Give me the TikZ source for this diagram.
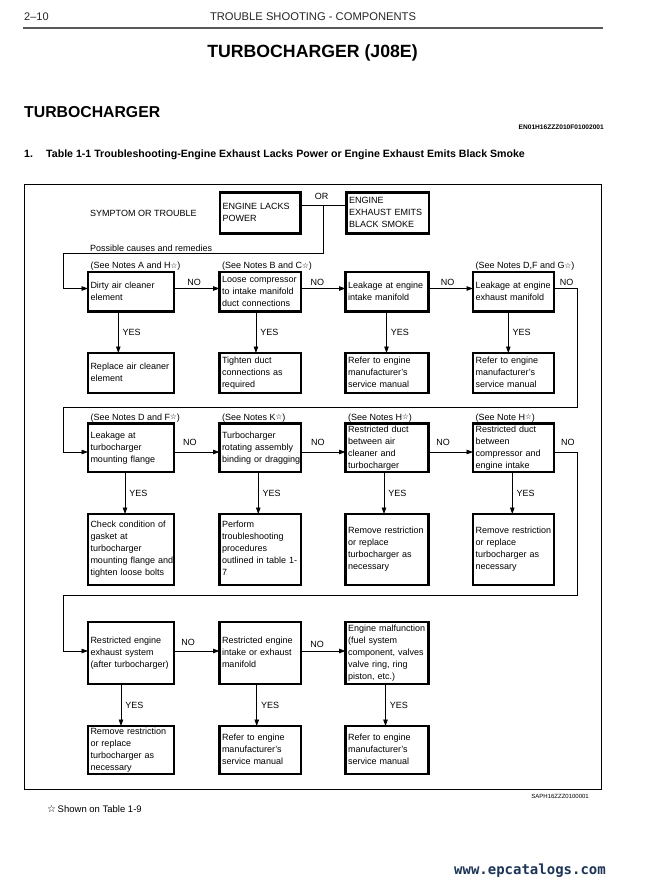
\documentclass[tikz,border=0pt]{standalone}
\usepackage{fontspec}
\setmainfont{Liberation Sans}
\newfontfamily\symf{DejaVu Sans}
\newfontfamily\wmf{DejaVu Sans Mono}
\usetikzlibrary{arrows.meta}
\newcommand\wst{{\symf\fontsize{7.5}{7.5}\selectfont\raisebox{0.3pt}{☆}}}
\newcommand\tl[1]{\noindent\begin{tabular}{@{}l@{}}#1\end{tabular}}
\definecolor{wmblue}{HTML}{1C3557}
\tikzset{
  bx/.style={draw, line width=2.6pt, outer sep=0pt, inner xsep=2.5pt, inner ysep=0pt,
    anchor=north west, align=left, font=\fontsize{9}{12}\selectfont},
  cA/.style={minimum width=86pt, text width=81pt},
  cB/.style={minimum width=81.5pt, text width=76.5pt},
  cC/.style={minimum width=83pt, text width=78pt},
  cD/.style={minimum width=81pt, text width=76pt},
  hda/.style={minimum height=39.5pt},
  hra/.style={minimum height=40pt},
  hdb/.style={minimum height=48.5pt},
  hrb/.style={minimum height=71pt},
  hdc/.style={minimum height=62pt},
  hrc/.style={minimum height=48pt},
  ln/.style={line width=0.8pt},
  arr/.style={line width=0.8pt, -{Triangle[length=6.5pt,width=4.5pt]}},
  lbl/.style={font=\fontsize{9}{11}\selectfont, inner sep=0pt},
  yes/.style={lbl, midway, right=4pt},
  note/.style={font=\fontsize{9}{11}\selectfont, inner sep=0pt, anchor=base west},
}
\begin{document}
\begin{tikzpicture}[x=1pt,y=-1pt]
\useasboundingbox (0,0) rectangle (667,889);
% header
\node[font=\fontsize{11}{13}\selectfont, inner sep=0pt, anchor=base west, text=black!85] (pg) at (24,20) {2–10};
\node[font=\fontsize{11.2}{13}\selectfont, inner sep=0pt, anchor=base, text=black!85] (hd) at (313,20) {TROUBLE SHOOTING - COMPONENTS};
\draw[line width=2pt, black!65] (23,27.5) -- (603,27.5);
\node[font=\bfseries\fontsize{17.7}{20}\selectfont, inner sep=0pt, anchor=base] (ttl) at (312.5,57.4) {TURBOCHARGER (J08E)};
\node[font=\bfseries\fontsize{15.8}{18}\selectfont, inner sep=0pt, anchor=base west] (sec) at (24,117.7) {TURBOCHARGER};
\node[font=\bfseries\fontsize{6.6}{7}\selectfont, inner sep=0pt, anchor=base east] (code1) at (604,129.4) {EN01H16ZZZ010F01002001};
\node[font=\bfseries\fontsize{10.6}{12}\selectfont, inner sep=0pt, anchor=base west] (num) at (24,157.8) {1.};
\node[font=\bfseries\fontsize{10.6}{12}\selectfont, inner sep=0pt, anchor=base west] (tbl) at (46,157.8) {Table 1-1 Troubleshooting-Engine Exhaust Lacks Power or Engine Exhaust Emits Black Smoke};
% frame
\draw[ln] (24,184) rectangle (601,789.5);
\node[lbl, anchor=base west] (sym) at (90,216.2) {SYMPTOM OR TROUBLE};
\node[lbl, anchor=base west] (pcr) at (90,251) {Possible causes and remedies};
% top boxes
\node[bx, minimum width=80.5pt, text width=75.5pt, minimum height=41pt] (elp) at (220,192.5) {\tl{ENGINE LACKS\\POWER}};
\node[bx, minimum width=82.5pt, text width=77.5pt, minimum height=41pt] (ebs) at (346.5,192.5) {\tl{ENGINE\\EXHAUST EMITS\\BLACK SMOKE}};
% row 1
\node[bx, cA, hda] (dac) at (88,272) {\tl{Dirty air cleaner\\element}};
\node[bx, cB, hda] (lcm) at (219.5,272) {\tl{Loose compressor\\to intake manifold\\duct connections}};
\node[bx, cC, hda] (lim) at (345.5,272) {\tl{Leakage at engine\\intake manifold}};
\node[bx, cD, hda] (lem) at (473,272) {\tl{Leakage at engine\\exhaust manifold}};
\node[bx, cA, hra] (rac) at (88,353) {\tl{Replace air cleaner\\element}};
\node[bx, cB, hra] (tdc) at (219.5,353) {\tl{Tighten duct\\connections as\\required}};
\node[bx, cC, hra] (rm1) at (345.5,353) {\tl{Refer to engine\\manufacturer's\\service manual}};
\node[bx, cD, hra] (rm2) at (473,353) {\tl{Refer to engine\\manufacturer's\\service manual}};
% row 2
\node[bx, cA, hdb] (ltf) at (88,423.5) {\tl{Leakage at\\turbocharger\\mounting flange}};
\node[bx, cB, hdb] (tra) at (219.5,423.5) {\tl{Turbocharger\\rotating assembly\\binding or dragging}};
\node[bx, cC, hdb] (rda) at (345.5,423.5) {\tl{Restricted duct\\between air\\cleaner and\\turbocharger}};
\node[bx, cD, hdb] (rdc) at (473,423.5) {\tl{Restricted duct\\between\\compressor and\\engine intake}};
\node[bx, cA, hrb] (ccg) at (88,514) {\tl{Check condition of\\gasket at\\turbocharger\\mounting flange and\\tighten loose bolts}};
\node[bx, cB, hrb] (ptp) at (219.5,514) {\tl{Perform\\troubleshooting\\procedures\\outlined in table 1-\\7}};
\node[bx, cC, hrb] (rr1) at (345.5,514) {\tl{Remove restriction\\or replace\\turbocharger as\\necessary}};
\node[bx, cD, hrb] (rr2) at (473,514) {\tl{Remove restriction\\or replace\\turbocharger as\\necessary}};
% row 3
\node[bx, cA, hdc] (rex) at (88,622) {\tl{Restricted engine\\exhaust system\\(after turbocharger)}};
\node[bx, cB, hdc] (rie) at (219.5,622) {\tl{Restricted engine\\intake or exhaust\\manifold}};
\node[bx, cC, hdc] (emf) at (345.5,622) {\tl{Engine malfunction\\(fuel system\\component, valves\\valve ring, ring\\piston, etc.)}};
\node[bx, cA, hrc] (rr3) at (88,726) {\tl{Remove restriction\\or replace\\turbocharger as\\necessary}};
\node[bx, cB, hrc] (rm3) at (219.5,726) {\tl{Refer to engine\\manufacturer's\\service manual}};
\node[bx, cC, hrc] (rm4) at (345.5,726) {\tl{Refer to engine\\manufacturer's\\service manual}};
% notes
\node[note] (na) at ([xshift=2.5pt,yshift=3.3pt]dac.north west) {(See Notes A and H\wst)};
\node[note] (nb) at ([xshift=2.5pt,yshift=3.3pt]lcm.north west) {(See Notes B and C\wst)};
\node[note] (nd) at ([xshift=2.5pt,yshift=3.3pt]lem.north west) {(See Notes D,F and G\wst)};
\node[note] (ne) at ([xshift=2.5pt,yshift=3.3pt]ltf.north west) {(See Notes D and F\wst)};
\node[note] (nf) at ([xshift=2.5pt,yshift=3.3pt]tra.north west) {(See Notes K\wst)};
\node[note] (ng) at ([xshift=2.5pt,yshift=3.3pt]rda.north west) {(See Notes H\wst)};
\node[note] (nh) at ([xshift=2.5pt,yshift=3.3pt]rdc.north west) {(See Note H\wst)};
% helper coordinates
\coordinate (orj) at (323,205);
\coordinate (oa) at (323,253);
\coordinate (ob) at (63,253);
\coordinate (ya) at (0,288.5);
\coordinate (yb) at (0,452);
\coordinate (yc) at (0,651);
\coordinate (ka) at (577,407);
\coordinate (kb) at (63,407);
\coordinate (kc) at (577,595);
\coordinate (kd) at (63,595);
% OR connection
\draw[ln] (elp.east |- orj) -- node[lbl, pos=0.46, above=5pt] (orl) {OR} (ebs.west |- orj);
\draw[arr] (orj) -- (oa) -- (ob) |- (dac.west |- ya);
% row 1 connectors
\draw[arr] (dac.east |- ya) -- node[lbl, pos=0.44, above=2.6pt] {NO} (lcm.west |- ya);
\draw[arr] (lcm.east |- ya) -- node[lbl, pos=0.37, above=2.6pt] {NO} (lim.west |- ya);
\draw[arr] (lim.east |- ya) -- node[lbl, pos=0.43, above=2.6pt] {NO} (lem.west |- ya);
\draw[arr] (lem.east |- ya) -- node[lbl, pos=0.55, above=2.6pt] {NO} (ka |- ya) -- (ka) -- (kb) |- (ltf.west |- yb);
\draw[arr] ([xshift=-12.7pt]dac.south) -- node[yes] {YES} ([xshift=-12.7pt]rac.north);
\draw[arr] ([xshift=-4.3pt]lcm.south) -- node[yes] {YES} ([xshift=-4.3pt]tdc.north);
\draw[arr] ([xshift=-0.5pt]lim.south) -- node[yes] {YES} ([xshift=-0.5pt]rm1.north);
\draw[arr] ([xshift=-5.2pt]lem.south) -- node[yes] {YES} ([xshift=-5.2pt]rm2.north);
% row 2 connectors
\draw[arr] (ltf.east |- yb) -- node[lbl, pos=0.35, above=5.8pt] {NO} (tra.west |- yb);
\draw[arr] (tra.east |- yb) -- node[lbl, pos=0.38, above=5.8pt] {NO} (rda.west |- yb);
\draw[arr] (rda.east |- yb) -- node[lbl, pos=0.33, above=5.8pt] {NO} (rdc.west |- yb);
\draw[arr] (rdc.east |- yb) -- node[lbl, pos=0.6, above=6pt] {NO} (kc |- yb) -- (kc) -- (kd) |- (rex.west |- yc);
\draw[arr] ([xshift=-6pt]ltf.south) -- node[yes] {YES} ([xshift=-6pt]ccg.north);
\draw[arr] ([xshift=-2pt]tra.south) -- node[yes] {YES} ([xshift=-2pt]ptp.north);
\draw[arr] ([xshift=-3pt]rda.south) -- node[yes] {YES} ([xshift=-3pt]rr1.north);
\draw[arr] ([xshift=-1.2pt]rdc.south) -- node[yes] {YES} ([xshift=-1.2pt]rr2.north);
% row 3 connectors
\draw[arr] (rex.east |- yc) -- node[lbl, pos=0.31, above=5pt] {NO} (rie.west |- yc);
\draw[arr] (rie.east |- yc) -- node[lbl, pos=0.36, above=2.8pt] {NO} (emf.west |- yc);
\draw[arr] ([xshift=-10pt]rex.south) -- node[yes] {YES} ([xshift=-10pt]rr3.north);
\draw[arr] ([xshift=-3.5pt]rie.south) -- node[yes] {YES} ([xshift=-3.5pt]rm3.north);
\draw[arr] ([xshift=-1.5pt]emf.south) -- node[yes] {YES} ([xshift=-1.5pt]rm4.north);
% footer
\node[font=\fontsize{6}{7}\selectfont, inner sep=0pt, anchor=base east] (code2) at (589,798) {SAPH16ZZZ0100001};
\node[font=\fontsize{9.5}{11}\selectfont, inner sep=0pt, anchor=base west] (fn) at (47,812) {{\symf\fontsize{10}{11}\selectfont ☆}\,Shown on Table 1-9};
\node[font=\wmf\bfseries\fontsize{14}{16}\selectfont, text=wmblue, inner sep=0pt] (wm) at (530,871) {www.epcatalogs.com};
\end{tikzpicture}
\end{document}
